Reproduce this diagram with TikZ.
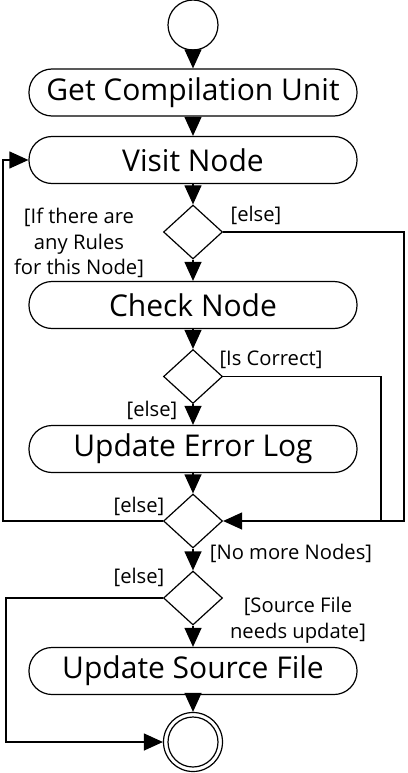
\documentclass[tikz,border=0pt]{standalone}
\usepackage{fontspec}
\setmainfont{Open Sans}
\usetikzlibrary{arrows.meta,shapes.geometric}
\begin{document}
\begin{tikzpicture}[x=1pt,y=-1pt,line width=1.2pt,
 flow/.style={-{Triangle[length=19pt,width=17pt]}},
 action/.style={draw,rectangle,rounded corners=23pt,minimum width=328pt,
   minimum height=47pt,font=\fontsize{30}{33}\selectfont},
 decision/.style={draw,diamond,minimum width=59pt,minimum height=54pt,
   inner sep=0pt,aspect=1.09},
 guard/.style={align=center,font=\fontsize{20.2}{25.5}\selectfont}]
 \useasboundingbox (0,0) rectangle (407,773);
 \node[draw,circle,minimum size=50pt] (start) at (193,25) {};
 \node[action] (getcu) at (193,92.5) {Get Compilation Unit};
 \node[action] (visit) at (193,160) {Visit Node};
 \node[decision] (rules) at (193,232) {};
 \node[action] (check) at (193,305) {Check Node};
 \node[decision] (correct) at (193,376.5) {};
 \node[action] (errlog) at (193,449) {Update Error Log};
 \node[decision] (more) at (193,521) {};
 \node[decision] (needupd) at (193,598) {};
 \node[action] (srcfile) at (193,671) {Update Source File};
 \node[draw,circle,minimum size=59pt] (stop) at (193,742) {};
 \node[draw,circle,minimum size=50pt] (stopin) at (stop) {};
 \coordinate (leftA) at (3,0);
 \coordinate (leftB) at (6,0);
 \coordinate (rightA) at (404,0);
 \coordinate (rightB) at (381,0);
 \draw[flow] (start) -- (getcu);
 \draw[flow] (getcu) -- (visit);
 \draw[flow] (visit) -- (rules);
 \draw[flow] (rules) -- (check);
 \draw[flow] (check) -- (correct);
 \draw[flow] (correct) -- (errlog);
 \draw[flow] (errlog) -- (more);
 \draw[flow] (more) -- (needupd);
 \draw[flow] (needupd) -- (srcfile);
 \draw[flow] (srcfile) -- (stop);
 \draw[flow] (more.west) -- (more.west -| leftA) |- (visit.west);
 \draw[flow] (rules.east) -| (rightA |- more.east) -- (more.east);
 \draw (correct.east) -| (rightB |- more.east);
 \draw[flow] (needupd.west) -- (needupd.west -| leftB) |- (stop.west);
 \node[guard] (lelse1) at (256,215) {[else]};
 \node[guard] (lrules) at (79,243) {[If there are\\any Rules\\for this Node]};
 \node[guard] (lcorrect) at (271,360) {[Is Correct]};
 \node[guard] (lelse2) at (152,410) {[else]};
 \node[guard] (lelse3) at (139,506) {[else]};
 \node[guard] (lnomore) at (291,553) {[No more Nodes]};
 \node[guard] (lelse4) at (139,577) {[else]};
 \node[guard] (lsource) at (298,620) {[Source File\\needs update]};
\end{tikzpicture}
\end{document}
